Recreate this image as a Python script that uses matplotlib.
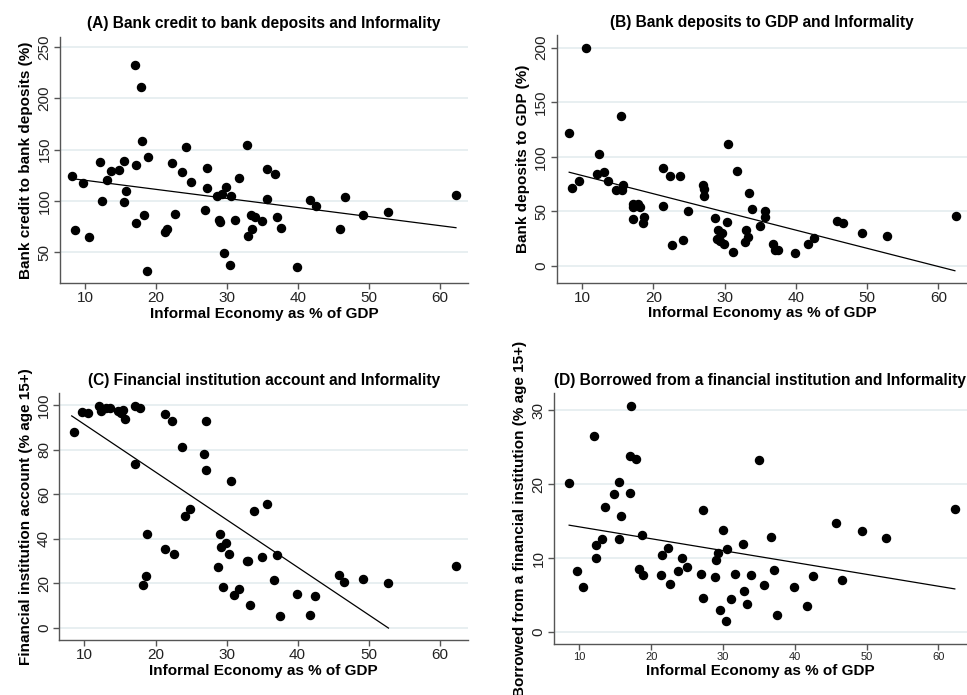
import numpy as np
import matplotlib
matplotlib.use('Agg')
import matplotlib.pyplot as plt

plt.rcParams['font.family'] = ['Liberation Sans', 'DejaVu Sans']

# (A) bank credit to bank deposits
a_x = [8.17, 8.55, 9.63, 10.56, 12.1, 12.34, 13.09, 13.6, 14.78, 15.53, 15.43, 15.76,
       17.12, 17.07, 17.87, 18.06, 17.21, 18.34, 18.8, 18.71, 21.33, 21.48, 22.32, 22.65,
       23.72, 24.24, 24.94, 26.96, 27.14, 27.19, 28.6, 29.3, 28.92, 29.06, 29.9, 30.61,
       29.63, 30.37, 31.17, 31.73, 32.86, 33.0, 33.51, 33.33, 33.93, 35.01, 35.71, 35.71,
       36.74, 37.12, 37.59, 39.93, 41.71, 42.55, 45.88, 46.63, 49.2, 52.7, 62.3]
a_y = [124.7, 71.9, 117.9, 64.4, 138.1, 99.6, 120.5, 129.3, 129.9, 138.7, 98.6, 109.7,
       134.8, 232.1, 210.5, 158.3, 78.7, 86.2, 142.7, 31.7, 69.9, 72.8, 136.8, 87.5,
       128.3, 152.4, 118.5, 91.4, 112.6, 131.6, 105.1, 106.4, 81.3, 79.0, 113.3, 104.8,
       49.3, 37.3, 81.3, 122.1, 154.4, 66.0, 72.5, 86.2, 84.6, 80.0, 102.2, 130.6,
       126.0, 84.3, 73.5, 35.6, 100.6, 94.7, 72.8, 103.5, 86.5, 89.1, 105.3]

# (B) bank deposits to GDP
b_x = [8.17, 8.55, 9.63, 10.56, 12.34, 12.1, 13.14, 13.6, 14.77, 15.47, 15.57, 15.8,
       17.16, 17.2, 17.9, 18.1, 17.2, 18.56, 18.75, 21.42, 22.31, 23.71, 21.32, 22.63,
       24.23, 24.93, 26.94, 27.17, 27.13, 28.62, 29.09, 29.6, 28.95, 29.37, 29.93, 30.36,
       30.54, 31.2, 31.71, 32.98, 32.84, 33.35, 33.49, 33.91, 34.99, 35.69, 35.64, 36.72,
       37.09, 37.56, 39.9, 41.73, 42.52, 45.8, 46.6, 49.33, 52.74, 62.39]
b_y = [122.3, 71.6, 77.7, 199.7, 102.7, 84.5, 86.0, 78.0, 69.2, 137.8, 69.8, 73.8,
       56.7, 54.3, 56.7, 54.3, 43.0, 39.3, 45.1, 90.0, 82.9, 82.6, 54.6, 19.2,
       23.8, 50.0, 73.8, 70.7, 64.6, 43.6, 32.9, 30.2, 24.7, 22.9, 20.4, 40.0,
       111.9, 12.8, 86.6, 33.2, 22.0, 26.2, 66.8, 52.1, 36.9, 50.0, 45.1, 20.1,
       14.3, 14.3, 11.6, 20.1, 25.6, 41.2, 39.0, 30.5, 27.5, 46.1]

# (C) financial institution account
c_x = [8.5, 9.58, 10.52, 12.07, 12.3, 12.96, 13.57, 14.75, 15.41, 15.69, 15.13, 17.06,
       17.86, 17.15, 18.75, 18.65, 18.28, 21.38, 22.28, 21.29, 22.61, 23.69, 24.16, 24.91,
       26.84, 27.12, 27.07, 30.56, 29.05, 29.19, 29.9, 30.37, 28.86, 29.56, 31.73, 31.12,
       32.86, 33.05, 33.28, 33.9, 35.68, 34.98, 37.09, 36.72, 37.52, 39.92, 41.7, 42.5,
       45.84, 46.6, 49.28, 52.76, 62.35]
c_y = [88.0, 97.0, 96.4, 99.6, 97.5, 98.7, 99.0, 97.3, 98.1, 93.9, 96.4, 99.9,
       99.0, 73.7, 42.4, 23.4, 19.5, 96.3, 93.1, 35.3, 33.1, 81.1, 50.4, 53.6,
       78.0, 93.1, 71.0, 66.2, 42.4, 36.5, 38.3, 33.2, 27.4, 18.4, 17.5, 14.8,
       30.2, 30.2, 10.2, 52.7, 55.8, 31.7, 32.8, 21.7, 5.5, 15.3, 5.8, 14.2,
       23.7, 20.5, 22.2, 20.4, 28.0]

# (D) borrowed from a financial institution
d_x = [8.56, 9.63, 10.56, 12.09, 12.33, 13.12, 12.33, 13.58, 14.79, 15.44, 15.53, 15.77,
       17.07, 17.16, 17.07, 17.91, 18.65, 18.33, 18.79, 21.44, 22.33, 21.35, 22.6, 23.67,
       24.23, 24.93, 26.93, 27.21, 27.16, 28.88, 29.07, 29.3, 29.95, 30.6, 29.63, 30.37,
       31.16, 31.72, 32.84, 32.98, 33.3, 33.91, 35.02, 35.72, 36.7, 37.07, 37.58, 39.91,
       41.72, 42.51, 45.81, 46.56, 49.3, 52.74, 62.37]
d_y = [20.14, 8.29, 6.08, 26.58, 11.85, 12.57, 10.0, 16.98, 18.65, 20.27, 12.57, 15.72,
       18.78, 30.63, 23.87, 23.38, 13.15, 8.56, 7.75, 10.5, 11.44, 7.7, 6.58, 8.29,
       10.0, 8.83, 7.88, 16.58, 4.59, 7.52, 9.73, 10.68, 13.87, 11.22, 3.06, 1.53,
       4.46, 7.84, 11.94, 5.59, 3.78, 7.79, 23.33, 6.35, 12.88, 8.42, 2.34, 6.17,
       3.51, 7.66, 14.82, 7.07, 13.71, 12.72, 16.6]

# fitted lines: intercept, slope, x range
fit_a = [128.9, -0.883, 8.2, 62.3]
fit_b = [99.6, -1.668, 8.2, 62.3]
fit_c = [112.8, -2.137, 8.2, 52.8]
fit_d = [15.85, -0.1605, 8.56, 62.3]

titles = ['(A) Bank credit to bank deposits and Informality',
          '(B) Bank deposits to GDP and Informality',
          '(C) Financial institution account and Informality',
          '(D) Borrowed from a financial institution and Informality']
ylabels = ['Bank credit to bank deposits (%)',
           'Bank deposits to GDP (%)',
           'Financial institution account (% age 15+)',
           'Borrowed from a financial institution (% age 15+)']
xlabel = 'Informal Economy as % of GDP'

panels = [
    (a_x, a_y, fit_a, [0.062, 0.5928, 0.422, 0.3544], (20, 260), np.arange(50, 251, 50), 11),
    (b_x, b_y, fit_b, [0.5757, 0.5932, 0.4243, 0.3564], (-15.3, 211.6), np.arange(0, 201, 50), 11),
    (c_x, c_y, fit_c, [0.0613, 0.0791, 0.4227, 0.3549], (-5.4, 105.4), np.arange(0, 101, 20), 11),
    (d_x, d_y, fit_d, [0.5729, 0.0734, 0.4271, 0.3605], (-1.6, 32.3), np.arange(0, 31, 10), 8),
]

fig = plt.figure(figsize=(9.67, 6.95), dpi=100)

for i, (x, y, fit, pos, ylim, yticks, xtick_size) in enumerate(panels):
    ax = fig.add_axes(pos)
    ax.set_xlim(6.45, 64.0)
    ax.set_ylim(*ylim)
    ax.set_xticks(np.arange(10, 61, 10))
    ax.set_yticks(yticks)
    ax.grid(axis='y', color='#e6eef0', linewidth=1.3)
    ax.set_axisbelow(True)

    ax.plot(x, y, 'o', color='black', markersize=5.8, linestyle='none')
    xs = np.array([fit[2], fit[3]])
    ax.plot(xs, fit[0] + fit[1] * xs, color='black', linewidth=0.9)

    for side in ['top', 'right']:
        ax.spines[side].set_visible(False)
    for side in ['left', 'bottom']:
        ax.spines[side].set_color('#555555')
        ax.spines[side].set_linewidth(1.0)
    ax.tick_params(axis='both', colors='#555555', length=4, width=1.0, labelcolor='#222222')
    ax.tick_params(axis='x', labelsize=xtick_size, pad=2)
    ax.tick_params(axis='y', labelsize=11, pad=2)
    for lbl in ax.get_yticklabels():
        lbl.set_rotation(90)
        lbl.set_va('center')

    ax.set_title(titles[i], fontsize=11.2, fontweight='bold', pad=6)
    ax.set_xlabel(xlabel, fontsize=11, fontweight='bold', labelpad=1)
    ax.set_ylabel(ylabels[i], fontsize=11, fontweight='bold', labelpad=3)

plt.savefig('out.png', dpi=100)
plt.close()
